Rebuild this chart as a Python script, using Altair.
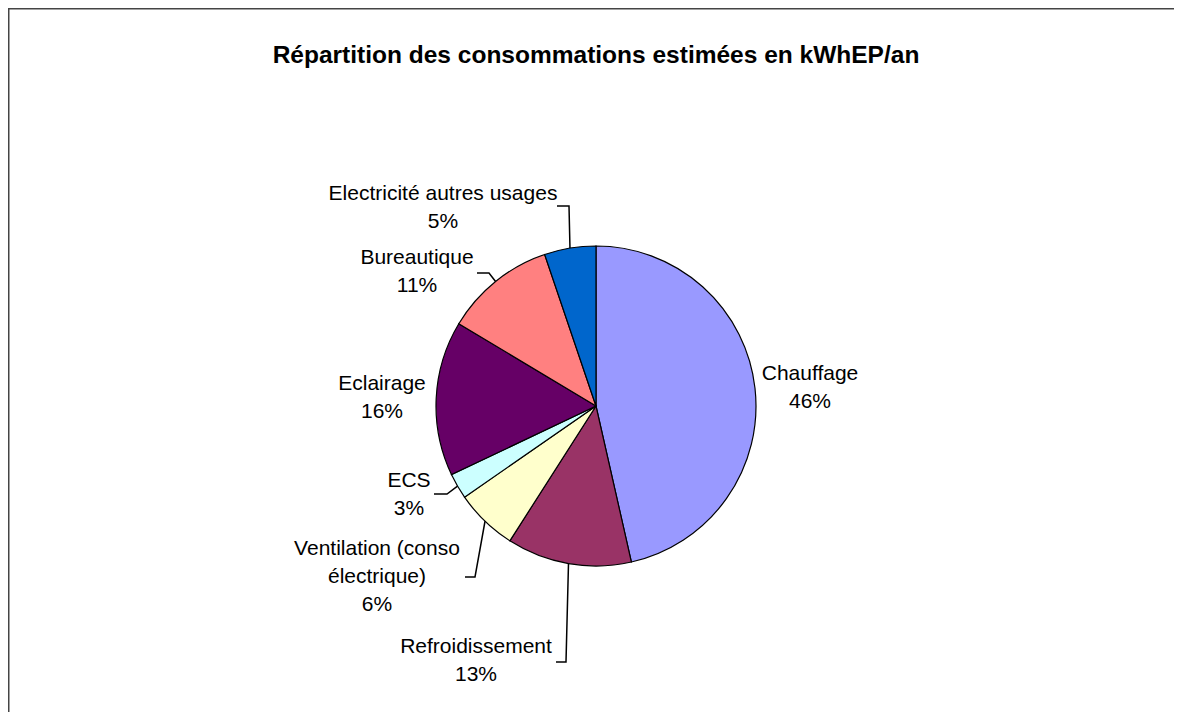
import altair as alt

# ---------------- data ----------------
CATEGORIES = [
    "Chauffage",
    "Refroidissement",
    "Ventilation (conso électrique)",
    "ECS",
    "Eclairage",
    "Bureautique",
    "Electricité autres usages",
]
LABEL_LINES = [
    "Chauffage",
    "Refroidissement",
    "Ventilation (conso\nélectrique)",
    "ECS",
    "Eclairage",
    "Bureautique",
    "Electricité autres usages",
]
VALUES = [46.45, 12.6, 6.3, 2.6, 15.65, 11.2, 5.2]
COLORS = ["#9999FF", "#993366", "#FFFFCC", "#CCFFFF", "#660066", "#FF8080", "#0066CC"]
TITLE = "Répartition des consommations estimées en kWhEP/an"

# ---------------- layout (pixels, relative to the pie centre) ----------------
W, H = 1200, 740          # view size; right/bottom part cropped by negative padding
SVG_W, SVG_H = 1166, 704  # visible size
CX, CY = 588, 398
R = 160
LABEL_DX = [214, -120, -219, -187, -214, -179, -153]
LABEL_DY = [-26, 247, 149, 81, -16, -142, -206]
LEADER_DX = [[], [0, -30, -40], [0, -121, -131], [0, -149, -162], [], [0, -107, -119], [0, -27, -39]]
LEADER_DY = [[], [0, 256, 256], [0, 171, 171], [0, 88, 88], [], [0, -133, -133], [0, -200, -200]]
TITLE_DY = -343
FONT = "Liberation Sans"

records = []
for i, c in enumerate(CATEGORIES):
    records.append({
        "cat": c,
        "label": LABEL_LINES[i],
        "value": VALUES[i],
        "idx": i,
        "lx": LABEL_DX[i],
        "ly": LABEL_DY[i],
        "lstep": list(range(len(LEADER_DX[i]))),
        "ldx": LEADER_DX[i],
        "ldy": LEADER_DY[i],
    })
data = alt.Data(values=records)

xs = alt.Scale(domain=[-CX, W - CX], nice=False, zero=False)
ys = alt.Scale(domain=[-CY, H - CY], nice=False, zero=False, reverse=True)

base = alt.Chart(data)

pie = base.mark_arc(radius=R, stroke="black", strokeWidth=1.2).encode(
    theta=alt.Theta("value:Q", stack=True),
    color=alt.Color("cat:N", scale=alt.Scale(domain=CATEGORIES, range=COLORS), legend=None),
    order=alt.Order("idx:Q"),
    x=alt.XDatum(0, scale=xs, axis=None),
    y=alt.YDatum(0, scale=ys, axis=None),
)

leaders = base.transform_window(
    cum="sum(value)", sort=[alt.SortField("idx")]
).transform_joinaggregate(
    total="sum(value)"
).transform_calculate(
    mid="(datum.cum - datum.value / 2) / datum.total * 2 * PI"
).transform_calculate(
    sx=f"{R} * sin(datum.mid)", sy=f"-{R} * cos(datum.mid)"
).transform_flatten(
    ["lstep", "ldx", "ldy"]
).transform_calculate(
    px="datum.lstep == 0 ? datum.sx : datum.ldx",
    py="datum.lstep == 0 ? datum.sy : datum.ldy",
).mark_line(color="black", strokeWidth=1.5).encode(
    x=alt.X("px:Q", scale=xs, axis=None),
    y=alt.Y("py:Q", scale=ys, axis=None),
    detail="cat:N",
    order="lstep:Q",
)

labels = base.transform_joinaggregate(
    total="sum(value)"
).transform_calculate(
    txt="datum.label + '\\n' + format(datum.value / datum.total, '.0%')"
).mark_text(
    font=FONT, fontSize=21, lineBreak="\n", lineHeight=28,
    align="center", baseline="alphabetic", color="black",
).encode(
    x=alt.X("lx:Q", scale=xs, axis=None),
    y=alt.Y("ly:Q", scale=ys, axis=None),
    text="txt:N",
)

title = base.transform_filter("datum.idx == 0").mark_text(
    font=FONT, fontSize=24.5, fontWeight="bold", align="center",
    baseline="alphabetic", color="black", text=TITLE,
).encode(
    x=alt.XDatum(0, scale=xs, axis=None),
    y=alt.YDatum(TITLE_DY, scale=ys, axis=None),
)

chart = alt.layer(pie, leaders, labels, title).properties(
    width=W, height=H, autosize="none", background="white",
    padding={"left": 0, "top": 0, "right": SVG_W - W, "bottom": SVG_H - H},
).configure_view(stroke="#444444", strokeWidth=3)

chart.save("out.html", embed_options={"renderer": "svg", "actions": False})
